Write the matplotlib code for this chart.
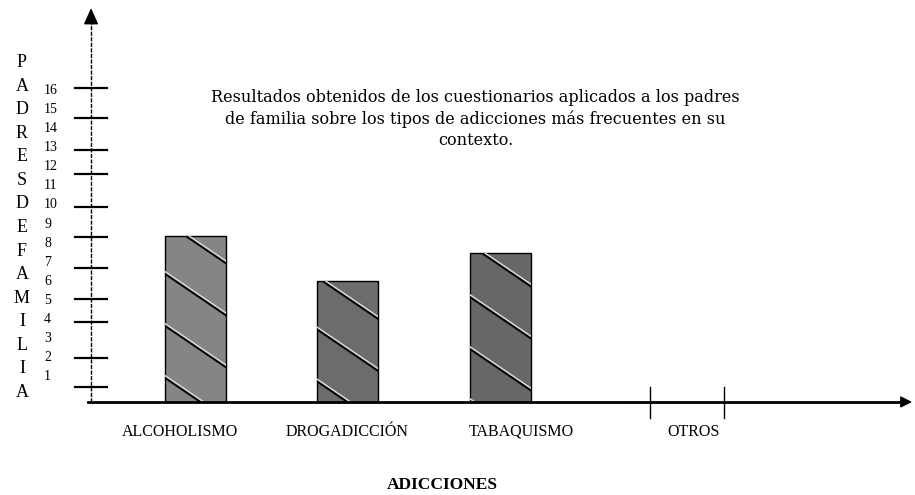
import matplotlib.pyplot as plt
from matplotlib.lines import Line2D

# data
categories = ['ALCOHOLISMO', 'DROGADICCIÓN', 'TABAQUISMO', 'OTROS']
values = [8.4, 6.0, 7.5, 0]
y_labels = list(range(1, 17))
y_tick_marks = [0.47, 2.0, 3.9, 5.1, 6.7, 8.3, 9.9, 11.6, 12.9, 14.55, 16.1]
y_title = 'PADRESDEFAMILIA'
x_title = 'ADICCIONES'
title = ('Resultados obtenidos de los cuestionarios aplicados a los padres\n'
         'de familia sobre los tipos de adicciones más frecuentes en su\n'
         'contexto.')

bar_colors = ['#858585', '#6c6c6c', '#676767', '#777777']
label_shift = [-0.10, 0.0, 0.14, 0.27]

plt.rcParams['font.family'] = ['Liberation Serif', 'DejaVu Serif']

fig = plt.figure(figsize=(9.15, 4.95), dpi=100)
ax = fig.add_axes([0, 0, 1, 1])
ax.axis('off')
# 1 category = 152.5 px, 1 unit = 19.1 px
ax.set_xlim(-1.279, 4.721)
ax.set_ylim(-5.18, 20.73)

base = -0.31
x = list(range(len(categories)))
heights = [v - base if v > 0 else 0 for v in values]
bars = ax.bar(x, heights, bottom=base, width=0.4,
              color=bar_colors, edgecolor='black', linewidth=1.0, zorder=2)

# diagonal stripes inside the bars
fig.canvas.draw()
inv = ax.transData.inverted()
for i, b in enumerate(bars):
    if values[i] <= 0:
        continue
    (x0p, y0p), (x1p, y1p) = ax.transData.transform(
        [(b.get_x(), b.get_y()), (b.get_x() + b.get_width(), b.get_y() + b.get_height())])
    w = x1p - x0p
    phase = [14, 4, 8][i]
    off = -phase
    while off < (y1p - y0p) + 60:
        ys = y1p - off
        p0 = inv.transform((x0p, ys))
        p1 = inv.transform((x1p, ys - 0.68 * w))
        pw0 = inv.transform((x0p, ys + 2.2))
        pw1 = inv.transform((x1p, ys + 2.2 - 0.68 * w))
        lw_ = Line2D([pw0[0], pw1[0]], [pw0[1], pw1[1]], color='#d8d8d8', lw=1.2, zorder=3)
        lb = Line2D([p0[0], p1[0]], [p0[1], p1[1]], color='black', lw=1.4, zorder=3)
        for ln in (lw_, lb):
            ax.add_line(ln)
            ln.set_clip_path(b)
        off += 52

# axes drawn by hand
y_axis_x = -0.682
ax.plot([y_axis_x, y_axis_x], [base, 19.6], color='black', lw=1.0,
        linestyle=(0, (3, 1)), zorder=1)
ax.annotate('', xy=(y_axis_x, 20.45), xytext=(y_axis_x, 19.4),
            arrowprops=dict(arrowstyle='-|>,head_width=0.45,head_length=1.0',
                            color='black', lw=1.0))
ax.plot([-0.70, 4.62], [base, base], color='black', lw=2.0, zorder=4)
ax.annotate('', xy=(4.72, base), xytext=(4.6, base),
            arrowprops=dict(arrowstyle='-|>,head_width=0.35,head_length=0.7',
                            color='black', lw=1.0))

for t in y_tick_marks:
    ax.plot([-0.787, -0.577], [t, t], color='black', lw=1.6, zorder=4)

for k in y_labels:
    ax.text(-0.99, k, str(k), fontsize=10, ha='left', va='center')

n = len(y_title)
top_y, bot_y = (396 - 63) / 19.1, (396 - 392) / 19.1
for j, ch in enumerate(y_title):
    yy = top_y - j * (top_y - bot_y) / (n - 1)
    ax.text(-1.135, yy, ch, fontsize=13, ha='center', va='center')

for i, c in enumerate(categories):
    ax.text(i + label_shift[i], -1.88, c, fontsize=11.5, ha='center', va='center')

# separators around OTROS
for xo in (2.984, 3.469):
    ax.plot([xo, xo], [0.47, -1.15], color='black', lw=1.0)

ax.text(1.62, -4.66, x_title, fontsize=12.5, fontweight='bold', ha='center', va='center')
ax.text(1.84, 14.5, title, fontsize=11.6, family='DejaVu Serif',
        ha='center', va='center', linespacing=1.35)

fig.savefig('out.png', dpi=100)
